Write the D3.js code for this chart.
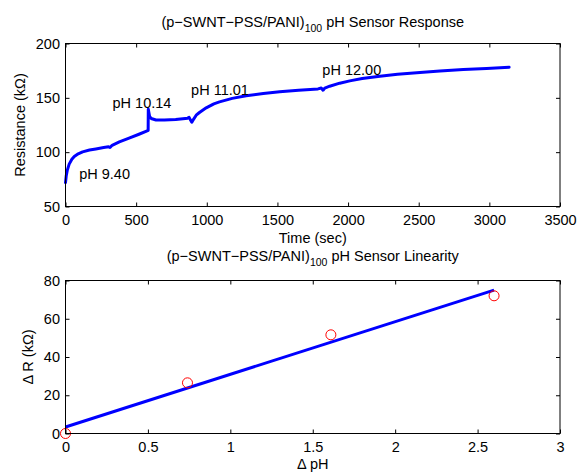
<!DOCTYPE html>
<html>
<head>
<meta charset="utf-8">
<script src="https://cdn.jsdelivr.net/npm/d3@7"></script>
<style>
  body { margin: 0; background: #fff; }
  text { font-family: "Liberation Sans", Arial, Helvetica, sans-serif; }
</style>
</head>
<body>
<div id="chart"></div>
<script>
// sensor response: time (sec) vs resistance (kOhm)
const timeSec = [0, 5, 12, 26, 45, 62, 90, 121, 170, 215, 270, 305, 315, 330, 381, 450, 520, 582, 585,
  586, 595, 606, 641, 700, 780, 865, 875, 885, 894, 905, 925, 948, 996, 1050, 1090, 1180, 1279, 1400,
  1516, 1650, 1787, 1810, 1823, 1835, 1870, 1941, 2012, 2100, 2225, 2350, 2509, 2650, 2816, 2980, 3140];
const resistance = [72, 78, 83, 89, 93.5, 96, 98.5, 100.3, 102, 103, 104.2, 105, 104.3, 106.3, 109.5, 113, 116.5, 119.8, 120,
  139.5, 133, 131, 129.6, 129.5, 130, 131.3, 132, 129.5, 127.5, 130, 134, 136.5, 140.8, 144.5, 146.3, 149.5, 152, 154,
  155.5, 157, 158.2, 159, 157, 159, 160.7, 163.5, 165.6, 167.8, 169.9, 171.7, 173.3, 174.7, 176, 177.1, 178.1];

const phLabels = ["pH 9.40", "pH 10.14", "pH 11.01", "pH 12.00"];
const phLabelTime = [97, 333, 889, 1818];
const phLabelRes = [75.5, 140.3, 152.5, 171.4];

// linearity: delta pH vs delta R
const deltaPH = [0, 0.74, 1.61, 2.60];
const deltaR = [0, 26.5, 51.6, 72.0];
const fitPH = [0, 2.6];
const fitR = [3.4, 75.0];

const timeTicks = [0, 500, 1000, 1500, 2000, 2500, 3000, 3500];
const resTicks = [50, 100, 150, 200];
const phTicks = [0, 0.5, 1, 1.5, 2, 2.5, 3];
const drTicks = [0, 20, 40, 60, 80];

const W = 579, H = 472;
const left = 65.5, right = 560;
const blue = "#0000ff", red = "#ff0000";
const fs = "14.5px";

const svg = d3.select("#chart").append("svg")
  .attr("width", W).attr("height", H)
  .attr("viewBox", `0 0 ${W} ${H}`);

function drawAxes(g, x, y, xTicks, yTicks, xFmt, yFmt) {
  const w = x.range()[1], h = y.range()[0];
  const style = sel => {
    sel.select(".domain").remove();
    sel.selectAll("line").attr("stroke", "#000");
    sel.selectAll("text").attr("font-size", "14.5px").attr("fill", "#000")
      .attr("font-family", "'Liberation Sans', Arial, sans-serif");
  };
  g.append("g").attr("transform", `translate(0,${h})`)
    .call(d3.axisBottom(x).tickValues(xTicks).tickFormat(xFmt).tickSize(-4).tickPadding(8.5)).call(style);
  g.append("g")
    .call(d3.axisTop(x).tickValues(xTicks).tickFormat("").tickSize(-4)).call(style);
  g.append("g")
    .call(d3.axisLeft(y).tickValues(yTicks).tickFormat(yFmt).tickSize(-4).tickPadding(5.5)).call(style);
  g.append("g").attr("transform", `translate(${w},0)`)
    .call(d3.axisRight(y).tickValues(yTicks).tickFormat("").tickSize(-4)).call(style);
  g.append("rect").attr("width", w).attr("height", h)
    .attr("fill", "none").attr("stroke", "#000").attr("stroke-width", 1);
}

function title(cx, y, main, rest) {
  const t = svg.append("text").attr("x", cx).attr("y", y)
    .attr("text-anchor", "middle").attr("font-size", fs).attr("fill", "#000");
  t.append("tspan").text(main);
  t.append("tspan").attr("dy", 4.5).attr("font-size", "10.5px").text("100");
  t.append("tspan").attr("dy", -4.5).text(rest);
}

// --- TOP PANEL ---
const top1 = 43.5, bot1 = 206.5;
const g1 = svg.append("g").attr("transform", `translate(${left},${top1})`);
const x1 = d3.scaleLinear().domain([0, 3500]).range([0, right - left]);
const y1 = d3.scaleLinear().domain([50, 200]).range([bot1 - top1, 0]);

g1.append("path")
  .datum(d3.range(timeSec.length))
  .attr("fill", "none").attr("stroke", blue).attr("stroke-width", 3)
  .attr("stroke-linejoin", "round").attr("stroke-linecap", "round")
  .attr("d", d3.line().x(i => x1(timeSec[i])).y(i => y1(resistance[i])));

g1.selectAll(".ph-label").data(phLabels).enter().append("text")
  .attr("class", "ph-label")
  .attr("x", (d, i) => x1(phLabelTime[i])).attr("y", (d, i) => y1(phLabelRes[i]))
  .attr("font-size", fs).attr("fill", "#000").text(d => d);

drawAxes(g1, x1, y1, timeTicks, resTicks, d3.format("d"), d3.format("d"));

title((left + right) / 2, 27, "(p\u2212SWNT\u2212PSS/PANI)", " pH Sensor Response");
svg.append("text").attr("x", (left + right) / 2).attr("y", 243)
  .attr("text-anchor", "middle").attr("font-size", fs).text("Time (sec)");
svg.append("text").attr("transform", `translate(25,${(top1 + bot1) / 2}) rotate(-90)`)
  .attr("text-anchor", "middle").attr("font-size", fs).text("Resistance (k\u03A9)");

// --- BOTTOM PANEL ---
const top2 = 280.5, bot2 = 433.5;
const g2 = svg.append("g").attr("transform", `translate(${left},${top2})`);
const x2 = d3.scaleLinear().domain([0, 3]).range([0, right - left]);
const y2 = d3.scaleLinear().domain([0, 80]).range([bot2 - top2, 0]);

g2.append("path")
  .datum(d3.range(fitPH.length))
  .attr("fill", "none").attr("stroke", blue).attr("stroke-width", 3)
  .attr("d", d3.line().x(i => x2(fitPH[i])).y(i => y2(fitR[i])));

g2.selectAll(".pt").data(d3.range(deltaPH.length)).enter().append("circle")
  .attr("class", "pt")
  .attr("cx", i => x2(deltaPH[i])).attr("cy", i => y2(deltaR[i])).attr("r", 5)
  .attr("fill", "none").attr("stroke", red).attr("stroke-width", 1);

drawAxes(g2, x2, y2, phTicks, drTicks, d => d3.format("")(d), d3.format("d"));

title((left + right) / 2, 261, "(p\u2212SWNT\u2212PSS/PANI)", " pH Sensor Linearity");
svg.append("text").attr("x", (left + right) / 2).attr("y", 469)
  .attr("text-anchor", "middle").attr("font-size", fs).text("\u0394 pH");
svg.append("text").attr("transform", `translate(33,${(top2 + bot2) / 2}) rotate(-90)`)
  .attr("text-anchor", "middle").attr("font-size", fs).text("\u0394 R (k\u03A9)");
</script>
</body>
</html>
